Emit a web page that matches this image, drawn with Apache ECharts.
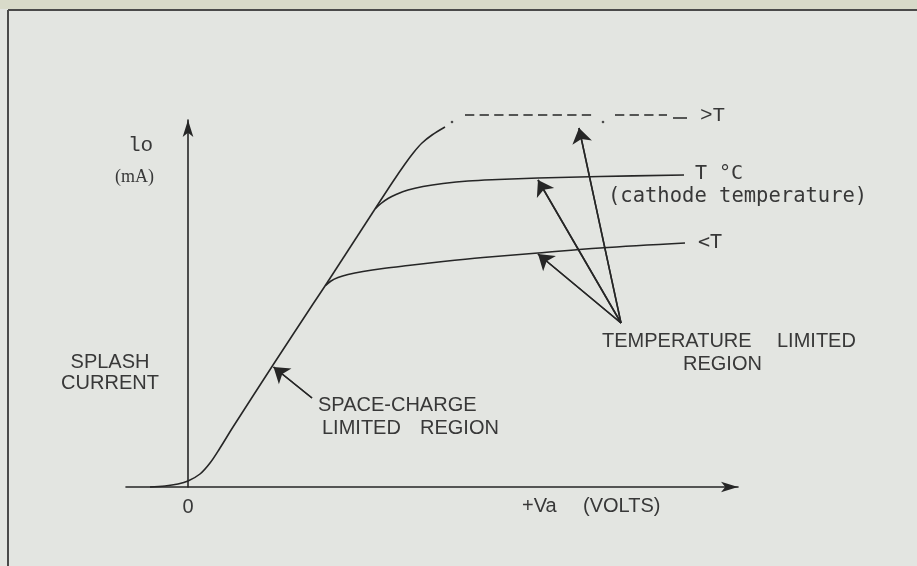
<!DOCTYPE html>
<html>
<head>
<meta charset="utf-8">
<script src="https://cdn.jsdelivr.net/npm/echarts@6/dist/echarts.min.js"></script>
<style>
  html, body { margin: 0; padding: 0; background: #e3e5e1; }
  #chart { width: 917px; height: 566px; }
</style>
</head>
<body>
<div id="chart"></div>
<script>
// Diode characteristic: anode current Io against anode voltage Va (arbitrary units)
const riseToe = [[-3.8, 0], [-2.3, 0.1], [-1.0, 0.3], [0, 0.6], [1.2, 1.3], [2.2, 2.4], [3.2, 3.9], [4.5, 6.0], [8.5, 12.2], [12.5, 18.3], [13.7, 20.1]];
const riseUpper = [[13.7, 20.1], [18.7, 27.8]];
const curveLowTemp = [[13.7, 20.1], [14.3, 20.6], [15.0, 20.95], [16.0, 21.25], [17.5, 21.55], [19.5, 21.85], [22.0, 22.15], [25.5, 22.55], [29.5, 22.95], [35.0, 23.4], [41.2, 23.9], [49.7, 24.4]];
const curveCathodeTemp = [[18.7, 27.8], [19.3, 28.35], [20.0, 28.85], [20.8, 29.25], [22.0, 29.7], [23.5, 30.05], [25.5, 30.35], [28.0, 30.6], [31.0, 30.75], [35.0, 30.9], [41.2, 31.05], [49.6, 31.2]];
const curveHighTemp = [[18.7, 27.8], [20.5, 30.55], [21.7, 32.3], [22.6, 33.5], [23.4, 34.4], [24.4, 35.2], [25.7, 36.0]];
const highTempLevelA = [[27.7, 37.2], [40.4, 37.2]];
const highTempLevelB = [[42.7, 37.2], [47.9, 37.2]];
const highTempTail = [[48.5, 36.9], [49.9, 36.9]];
const highTempDots = [[26.4, 36.5], [41.5, 36.5]];
const xTickValues = [0];

// Pointer arrows: [tail, tip]
const pointerArrows = [
  [[12.4, 8.9], [8.55, 12.0]],
  [[43.3, 16.4], [35.0, 23.3]],
  [[43.3, 16.4], [35.0, 30.7]],
  [[43.3, 16.4], [39.1, 35.9]]
];

// Annotation texts anchored in data units
const notes = [
  { text: 'lo', at: [-6.0, 34.2], face: 'type', size: 21, align: 'left' },
  { text: '(mA)', at: [-7.3, 31.0], face: 'serif', size: 18, align: 'left' },
  { text: 'SPLASH', at: [-7.8, 12.5], face: 'sans', size: 20, align: 'center' },
  { text: 'CURRENT', at: [-7.8, 10.4], face: 'sans', size: 20, align: 'center' },
  { text: 'SPACE-CHARGE', at: [13.0, 8.2], face: 'sans', size: 20, align: 'left' },
  { text: 'LIMITED', at: [13.4, 5.9], face: 'sans', size: 20, align: 'left' },
  { text: 'REGION', at: [23.2, 5.9], face: 'sans', size: 20, align: 'left' },
  { text: 'TEMPERATURE', at: [41.4, 14.6], face: 'sans', size: 20, align: 'left' },
  { text: 'LIMITED', at: [58.9, 14.6], face: 'sans', size: 20, align: 'left' },
  { text: 'REGION', at: [49.5, 12.3], face: 'sans', size: 20, align: 'left' },
  { text: 'T °C', at: [50.7, 31.3], face: 'mono', size: 20, align: 'left' },
  { text: '(cathode temperature)', at: [42.0, 29.0], face: 'mono', size: 20.5, align: 'left' },
  { text: '<T', at: [51.0, 24.4], face: 'mono', size: 20, align: 'left' },
  { text: '>T', at: [51.2, 37.2], face: 'type', size: 21, align: 'left' },
  { text: '+Va', at: [33.4, -1.9], face: 'sans', size: 20, align: 'left' },
  { text: '(VOLTS)', at: [39.5, -1.9], face: 'sans', size: 20, align: 'left' }
];

const ink = '#262626';
const textInk = '#383838';
const faces = {
  sans: '"Liberation Sans", Arial, sans-serif',
  mono: '"DejaVu Sans Mono", monospace',
  type: '"Liberation Mono", "Courier New", monospace',
  serif: '"Liberation Serif", "Times New Roman", serif'
};

const chart = echarts.init(document.getElementById('chart'));

function curve(data, extra) {
  return Object.assign({
    type: 'line', data: data, symbol: 'none', showSymbol: false,
    smooth: 0.35, clip: false, silent: true, animation: false,
    lineStyle: { color: ink, width: 1.6 }
  }, extra || {});
}

const arrowLines = pointerArrows.map(function (p) { return { coords: p }; });

chart.setOption({
  backgroundColor: '#e3e5e1',
  animation: false,
  grid: { left: 126, right: 179, top: 120, bottom: 79 },
  xAxis: {
    type: 'value', min: -6.2, max: 55.0,
    splitLine: { show: false },
    axisTick: { show: false },
    axisLine: { show: true, onZero: false, symbol: ['none', 'arrow'], symbolSize: [8, 17],
      lineStyle: { color: ink, width: 1.6 } },
    axisLabel: { customValues: xTickValues, color: textInk, fontSize: 20,
      fontFamily: faces.sans, margin: 10 }
  },
  yAxis: {
    type: 'value', min: 0, max: 36.7,
    splitLine: { show: false },
    axisTick: { show: false },
    axisLabel: { show: false },
    axisLine: { show: true, onZero: true, symbol: ['none', 'arrow'], symbolSize: [8, 17],
      lineStyle: { color: ink, width: 1.6 } }
  },
  series: [
    curve(riseToe),
    curve(riseUpper, { smooth: false }),
    curve(curveLowTemp),
    curve(curveCathodeTemp),
    curve(curveHighTemp),
    curve(highTempLevelA, { smooth: false, lineStyle: { color: ink, width: 1.5, type: [9.3, 5.3] } }),
    curve(highTempLevelB, { smooth: false, lineStyle: { color: ink, width: 1.5, type: [9.3, 5.3] } }),
    curve(highTempTail, { smooth: false, lineStyle: { color: ink, width: 1.5 } }),
    {
      type: 'scatter', data: highTempDots, symbol: 'circle', symbolSize: 2.6,
      itemStyle: { color: ink }, silent: true, clip: false
    },
    {
      // arrow shafts, drawn right up to the tip
      type: 'lines', coordinateSystem: 'cartesian2d', silent: true, clip: false,
      symbol: 'none',
      lineStyle: { color: ink, width: 1.5, opacity: 1, curveness: 0 },
      data: arrowLines
    },
    {
      // arrow heads
      type: 'lines', coordinateSystem: 'cartesian2d', silent: true, clip: false,
      symbol: ['none', 'arrow'], symbolSize: [7.5, 15],
      lineStyle: { color: ink, width: 1.5, opacity: 1, curveness: 0 },
      itemStyle: { color: ink },
      data: arrowLines
    }
  ]
});

// Frame of the plate and the annotation texts
const frame = [
  { type: 'rect', shape: { x: 0, y: 0, width: 917, height: 9 }, style: { fill: '#d8dac9' }, silent: true },
  { type: 'line', shape: { x1: 8, y1: 10, x2: 917, y2: 10 }, style: { stroke: '#4a4a4a', lineWidth: 2 }, silent: true },
  { type: 'line', shape: { x1: 8, y1: 10, x2: 8, y2: 566 }, style: { stroke: '#4a4a4a', lineWidth: 2 }, silent: true }
];
const texts = notes.map(function (n) {
  const p = chart.convertToPixel({ gridIndex: 0 }, n.at);
  return {
    type: 'text', x: p[0], y: p[1], silent: true,
    style: {
      text: n.text, fill: textInk, fontSize: n.size, fontFamily: faces[n.face],
      align: n.align, verticalAlign: 'middle'
    }
  };
});
chart.setOption({ graphic: frame.concat(texts) });
</script>
</body>
</html>
